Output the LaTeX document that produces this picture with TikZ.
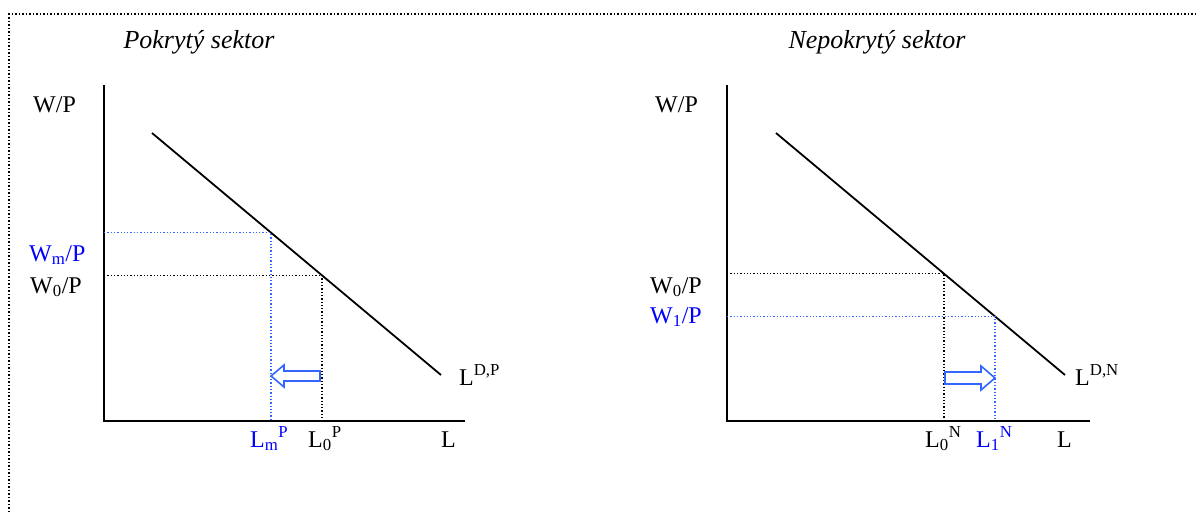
\documentclass[tikz,border=0pt]{standalone}
\usepackage{fontspec}
\setmainfont{Liberation Serif}
\usetikzlibrary{calc}
\definecolor{lblue}{RGB}{51,102,255}
\definecolor{tblue}{RGB}{0,0,255}
\begin{document}
\begin{tikzpicture}[x=1pt,y=-1pt,
  axis/.style={line width=2pt},
  demand/.style={line width=1.8pt},
  guide/.style={dotted, line width=1.3pt},
  frame/.style={dotted, line width=1.5pt},
  shiftarrow/.style={lblue, line width=1.6pt, fill=white, line join=miter},
  lab/.style={font=\fontsize{24}{28}\selectfont, inner sep=0pt, anchor=base west},
  ttl/.style={font=\fontsize{26}{30}\selectfont\itshape, inner sep=0pt, anchor=base}]
\useasboundingbox (0,0) rectangle (1197,512);
% frame
\coordinate (F1) at (9,512);
\coordinate (F2) at (9,14);
\coordinate (F3) at (1197,14);
\draw[frame] (F1) -- (F2) -- (F3);

% ---------- left chart ----------
\node[ttl] (t1) at (199,48) {Pokrytý sektor};
\coordinate (Ltop) at (104,85);
\coordinate (Lo) at (104,421);
\coordinate (Lright) at (465,421);
\draw[axis] (Ltop) -- (Lo) -- (Lright);
\coordinate (LD1) at (152,133);
\coordinate (LD2) at (441,375);
\draw[demand] (LD1) -- (LD2);
\coordinate (Lm) at ($(LD1)!0.412!(LD2)$);
\coordinate (L0) at ($(LD1)!0.588!(LD2)$);
\draw[guide, lblue] (Lo |- Lm) -- (Lm) -- (Lm |- Lo);
\draw[guide] (Lo |- L0) -- (L0) -- (L0 |- Lo);
\coordinate (LA) at (271,376);
\draw[shiftarrow] (LA) -- ++(13,-11) -- ++(0,6) -- ++(36,0) -- ++(0,10) -- ++(-36,0) -- ++(0,6) -- cycle;

\node[lab] (wp1) at (33,112) {W/P};
\node[lab, text=tblue] (wm) at (29,261) {W\textsubscript{m}/P};
\node[lab] (w01) at (30,293) {W\textsubscript{0}/P};
\node[lab, text=tblue] (lm) at (250,447) {L\textsubscript{m}\textsuperscript{P}};
\node[lab] (l0p) at (308,447) {L\textsubscript{0}\textsuperscript{P}};
\node[lab] (lx1) at (441,447) {L};
\node[lab] (ldp) at (459,385) {L\textsuperscript{D,P}};

% ---------- right chart ----------
\node[ttl] (t2) at (877,48) {Nepokrytý sektor};
\coordinate (Rtop) at (727,85);
\coordinate (Ro) at (727,421);
\coordinate (Rright) at (1090,421);
\draw[axis] (Rtop) -- (Ro) -- (Rright);
\coordinate (RD1) at (776,133);
\coordinate (RD2) at (1065,375);
\draw[demand] (RD1) -- (RD2);
\coordinate (R0) at ($(RD1)!0.581!(RD2)$);
\coordinate (R1) at ($(RD1)!0.758!(RD2)$);
\draw[guide] (Ro |- R0) -- (R0) -- (R0 |- Ro);
\draw[guide, lblue] (Ro |- R1) -- (R1) -- (R1 |- Ro);
\coordinate (RA) at (995,378);
\draw[shiftarrow] (RA) -- ++(-14,-12) -- ++(0,6) -- ++(-36,0) -- ++(0,12) -- ++(36,0) -- ++(0,6) -- cycle;

\node[lab] (wp2) at (655,112) {W/P};
\node[lab] (w02) at (650,293) {W\textsubscript{0}/P};
\node[lab, text=tblue] (w12) at (650,323) {W\textsubscript{1}/P};
\node[lab] (l0n) at (925,447) {L\textsubscript{0}\textsuperscript{N}};
\node[lab, text=tblue] (l1n) at (976,447) {L\textsubscript{1}\textsuperscript{N}};
\node[lab] (lx2) at (1057,447) {L};
\node[lab] (ldn) at (1075,385) {L\textsuperscript{D,N}};
\end{tikzpicture}
\end{document}
